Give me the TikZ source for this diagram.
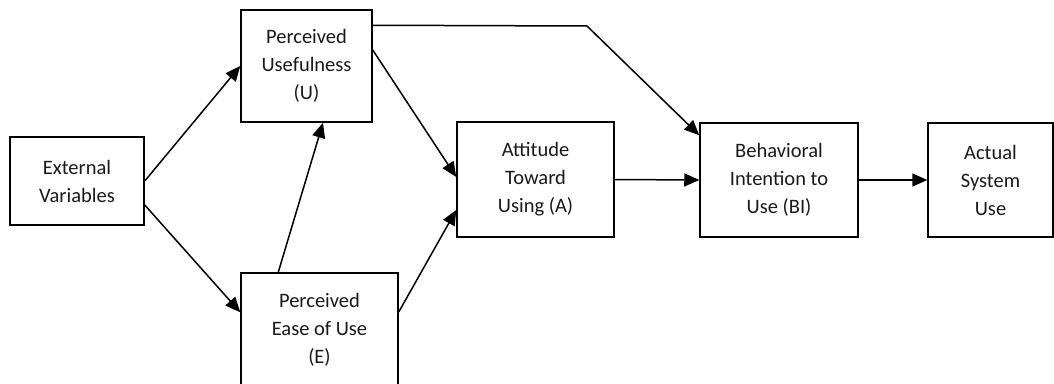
\documentclass[tikz,border=0pt]{standalone}
\usepackage{fontspec}
\setmainfont{Carlito}
\usepackage{tikz}
\usetikzlibrary{calc}
\usetikzlibrary{arrows.meta}
\usetikzlibrary{positioning}

\begin{document}
\begin{tikzpicture}[x=1pt, y=-1pt,
        modelbox/.style={draw=black, line width=1.5pt, align=center, inner sep=0pt,
                         text=black!90, font=\fontsize{20.5}{28}\selectfont},
        link/.style={line width=1.5pt, -{Triangle[length=15pt, width=13pt]}}]
            % Frame to fix the page:
            \clip                                                             (0, 0) rectangle (1054, 383);
            % Left column
            \node[modelbox, minimum width=134pt, minimum height=88pt]  (ext)    at (  77.0, 181.0) {External\\Variables};
            \node[modelbox, minimum width=131pt, minimum height=112pt] (useful) at ( 306.5,  66.0) {Perceived\\Usefulness\\(U)};
            \node[modelbox, minimum width=157pt, minimum height=113pt] (ease)   at ( 319.5, 329.5) {Perceived\\Ease of Use\\(E)};
            % Right row
            \node[modelbox, minimum width=157pt, minimum height=115pt] (att)    at ( 535.5, 179.5) {Attitude\\Toward\\Using (A)};
            \node[modelbox, minimum width=158pt, minimum height=114pt] (bi)     at ( 779.0, 180.0) {Behavioral\\Intention to\\Use (BI)};
            \node[modelbox, minimum width=125pt, minimum height=114pt] (use)    at ( 990.5, 180.0) {Actual\\System\\Use};
            \coordinate (bend) at (587, 26);
            % External variables
            \draw[link] (ext.east)                    -- (useful.west);
            \draw[link] ([yshift=-24pt]ext.east)      -- ([yshift=-40pt]ease.north west);
            % Ease of use -> usefulness
            \draw[link] ([xshift=38pt]ease.north west) -- ([xshift=16.5pt]useful.south);
            % Beliefs -> attitude
            \draw[link] ([yshift=16pt]useful.east)    -- ([yshift=2.5pt]att.west);
            \draw[link] ([yshift=17.5pt]ease.east)    -- ([yshift=-30.5pt]att.west);
            % Usefulness -> intention
            \draw[link] ([yshift=-16pt]useful.north east) -- (bend) -- ([yshift=-13pt]bi.north west);
            % Attitude -> intention -> use
            \draw[link] (att.east)                    -- (bi.west);
            \draw[link] (bi.east)                     -- (use.west);
        \end{tikzpicture}
\end{document}
